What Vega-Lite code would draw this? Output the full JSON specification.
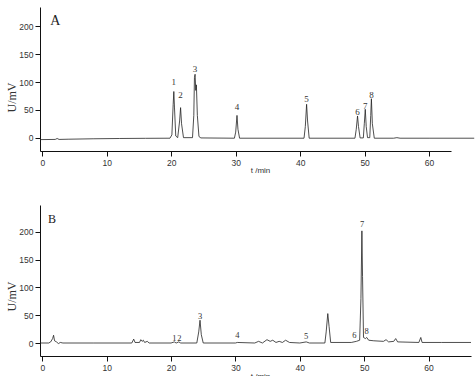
{
  "$schema": "https://vega.github.io/schema/vega-lite/v6.json",
  "padding": {"left": 5, "top": 7, "right": 0, "bottom": 0},
  "spacing": 31,
  "config": {
    "view": {"stroke": null},
    "axis": {
      "grid": false,
      "domainColor": "#111",
      "domainWidth": 1,
      "tickColor": "#111",
      "tickSize": 5,
      "labelFont": "Liberation Sans",
      "labelFontSize": 8.5,
      "labelColor": "#333",
      "labelPadding": 2,
      "labelOverlap": false
    }
  },
  "datasets": {
    "a": [
      {"t": -0.36, "v": -3.5}, {"t": 2.0, "v": -3.2}, {"t": 2.3, "v": -1.5}, {"t": 2.6, "v": -3.2},
      {"t": 4, "v": -2.8}, {"t": 8, "v": -2.0}, {"t": 12, "v": -1.5}, {"t": 16, "v": -1.2},
      {"t": 19.8, "v": -1}, {"t": 20.1, "v": 5}, {"t": 20.3, "v": 60}, {"t": 20.4, "v": 83}, {"t": 20.5, "v": 55}, {"t": 20.7, "v": 3},
      {"t": 21.0, "v": 0}, {"t": 21.3, "v": 30}, {"t": 21.45, "v": 54}, {"t": 21.6, "v": 25}, {"t": 21.9, "v": 0},
      {"t": 23.3, "v": 0}, {"t": 23.5, "v": 40}, {"t": 23.6, "v": 108}, {"t": 23.7, "v": 114}, {"t": 23.8, "v": 85}, {"t": 23.9, "v": 95}, {"t": 24.05, "v": 40}, {"t": 24.3, "v": 2},
      {"t": 24.6, "v": -0.5}, {"t": 29.8, "v": -1}, {"t": 30.0, "v": 10}, {"t": 30.2, "v": 40}, {"t": 30.35, "v": 15}, {"t": 30.6, "v": -1},
      {"t": 40.6, "v": -1}, {"t": 40.8, "v": 20}, {"t": 41.0, "v": 60}, {"t": 41.15, "v": 30}, {"t": 41.4, "v": -1},
      {"t": 48.5, "v": -1}, {"t": 48.7, "v": 15}, {"t": 48.9, "v": 39}, {"t": 49.05, "v": 20}, {"t": 49.3, "v": -0.5},
      {"t": 49.8, "v": -0.5}, {"t": 49.95, "v": 25}, {"t": 50.1, "v": 51}, {"t": 50.25, "v": 20}, {"t": 50.45, "v": 0},
      {"t": 50.8, "v": 0}, {"t": 50.95, "v": 40}, {"t": 51.05, "v": 70}, {"t": 51.2, "v": 25}, {"t": 51.5, "v": -1},
      {"t": 54.5, "v": -1}, {"t": 55, "v": 0}, {"t": 55.5, "v": -1}, {"t": 60, "v": -1}, {"t": 67, "v": -1}
    ],
    "b": [
      {"t": -0.36, "v": 0}, {"t": 1, "v": 0}, {"t": 1.3, "v": 2}, {"t": 1.6, "v": 8}, {"t": 1.75, "v": 14}, {"t": 1.9, "v": 4},
      {"t": 2.2, "v": 2}, {"t": 2.5, "v": -1}, {"t": 2.8, "v": 1}, {"t": 3.2, "v": 0}, {"t": 8, "v": 0},
      {"t": 13.9, "v": 0}, {"t": 14.2, "v": 7}, {"t": 14.4, "v": 1}, {"t": 15.1, "v": 1}, {"t": 15.3, "v": 6}, {"t": 15.5, "v": 3},
      {"t": 15.7, "v": 5}, {"t": 15.9, "v": 1}, {"t": 16.3, "v": 3}, {"t": 16.6, "v": 0}, {"t": 20, "v": 0},
      {"t": 20.5, "v": 2}, {"t": 20.8, "v": 0}, {"t": 21.2, "v": 2}, {"t": 21.5, "v": 0},
      {"t": 24.0, "v": 0}, {"t": 24.3, "v": 20}, {"t": 24.5, "v": 41}, {"t": 24.7, "v": 15}, {"t": 25.0, "v": 0},
      {"t": 30, "v": 0}, {"t": 30.3, "v": 1}, {"t": 33, "v": 0}, {"t": 33.6, "v": 3}, {"t": 34.2, "v": 0},
      {"t": 34.9, "v": 6}, {"t": 35.4, "v": 3}, {"t": 35.8, "v": 5}, {"t": 36.3, "v": 1}, {"t": 36.8, "v": 3},
      {"t": 37.3, "v": 1}, {"t": 37.8, "v": 5}, {"t": 38.4, "v": 1}, {"t": 40, "v": 0}, {"t": 41, "v": 2}, {"t": 41.5, "v": 0},
      {"t": 43.9, "v": 0}, {"t": 44.1, "v": 20}, {"t": 44.35, "v": 53}, {"t": 44.55, "v": 30}, {"t": 44.8, "v": 1},
      {"t": 48, "v": 1}, {"t": 48.8, "v": 3}, {"t": 49.3, "v": 5}, {"t": 49.5, "v": 80}, {"t": 49.65, "v": 202},
      {"t": 49.75, "v": 120}, {"t": 49.9, "v": 10}, {"t": 50.2, "v": 8}, {"t": 50.4, "v": 10}, {"t": 50.7, "v": 5},
      {"t": 51.5, "v": 4}, {"t": 53, "v": 3}, {"t": 53.4, "v": 6}, {"t": 53.8, "v": 2}, {"t": 54.6, "v": 3},
      {"t": 54.9, "v": 8}, {"t": 55.2, "v": 2}, {"t": 58.5, "v": 1}, {"t": 58.8, "v": 10}, {"t": 59.0, "v": 1},
      {"t": 62, "v": 1}, {"t": 66.6, "v": 1}
    ],
    "la": [
      {"t": 20.4, "v": 101, "s": "1"}, {"t": 21.45, "v": 77, "s": "2"}, {"t": 23.7, "v": 123, "s": "3"},
      {"t": 30.2, "v": 55, "s": "4"}, {"t": 41.0, "v": 69, "s": "5"}, {"t": 48.9, "v": 46, "s": "6"},
      {"t": 50.1, "v": 57, "s": "7"}, {"t": 51.05, "v": 77, "s": "8"}
    ],
    "lb": [
      {"t": 20.5, "v": 8.5, "s": "1"}, {"t": 21.3, "v": 8.5, "s": "2"}, {"t": 24.5, "v": 48.6, "s": "3"},
      {"t": 30.3, "v": 14, "s": "4"}, {"t": 41.0, "v": 12.6, "s": "5"}, {"t": 48.5, "v": 14.4, "s": "6"},
      {"t": 49.7, "v": 214, "s": "7"}, {"t": 50.4, "v": 21.6, "s": "8"}
    ]
  },
  "vconcat": [
    {
      "width": 411,
      "height": 144,
      "layer": [
        {
          "data": {"name": "a"},
          "mark": {"type": "line", "color": "#222", "strokeWidth": 0.8, "clip": false},
          "encoding": {
            "x": {"field": "t", "type": "quantitative",
              "scale": {"domain": [-0.36, 63.4], "nice": false, "zero": false},
              "axis": {"values": [0, 10, 20, 30, 40, 50, 60], "title": "t /min", "titleFont": "Liberation Sans",
                "titleFontSize": 8, "titleFontWeight": "normal", "titleColor": "#333",
                "titleX": 220, "titleY": 15, "titleBaseline": "top", "titleAlign": "center"}},
            "y": {"field": "v", "type": "quantitative",
              "scale": {"domain": [-24, 235], "nice": false, "zero": false},
              "axis": {"values": [0, 50, 100, 150, 200], "labelOverlap": false, "tickCount": 5, "title": "U/mV", "titleFont": "Liberation Serif",
                "titleFontSize": 12, "titleFontWeight": "normal", "titleColor": "#333", "titleY": 90, "titlePadding": 0}}
          }
        },
        {
          "data": {"name": "la"},
          "mark": {"type": "text", "font": "Liberation Serif", "fontSize": 9, "color": "#333", "baseline": "middle", "align": "center"},
          "encoding": {
            "x": {"field": "t", "type": "quantitative"},
            "y": {"field": "v", "type": "quantitative"},
            "text": {"field": "s"}
          }
        },
        {
          "data": {"values": [{"t": 2.0, "v": 210, "s": "A"}]},
          "mark": {"type": "text", "font": "Liberation Serif", "fontSize": 14, "color": "#222", "baseline": "middle", "align": "center"},
          "encoding": {
            "x": {"field": "t", "type": "quantitative"},
            "y": {"field": "v", "type": "quantitative"},
            "text": {"field": "s"}
          }
        }
      ]
    },
    {
      "width": 431,
      "height": 151,
      "layer": [
        {
          "data": {"name": "b"},
          "mark": {"type": "line", "color": "#222", "strokeWidth": 0.8},
          "encoding": {
            "x": {"field": "t", "type": "quantitative",
              "scale": {"domain": [-0.36, 66.6], "nice": false, "zero": false},
              "axis": {"values": [0, 10, 20, 30, 40, 50, 60], "title": "t /min", "titleFont": "Liberation Sans",
                "titleFontSize": 8, "titleFontWeight": "normal", "titleColor": "#333",
                "titleX": 220, "titleY": 16, "titleBaseline": "top", "titleAlign": "center"}},
            "y": {"field": "v", "type": "quantitative",
              "scale": {"domain": [-23.4, 248.6], "nice": false, "zero": false},
              "axis": {"values": [0, 50, 100, 150, 200], "labelOverlap": false, "tickCount": 5, "title": "U/mV", "titleFont": "Liberation Serif",
                "titleFontSize": 12, "titleFontWeight": "normal", "titleColor": "#333", "titleY": 91, "titlePadding": 0}}
          }
        },
        {
          "data": {"name": "lb"},
          "mark": {"type": "text", "font": "Liberation Serif", "fontSize": 8.5, "color": "#333", "baseline": "middle", "align": "center"},
          "encoding": {
            "x": {"field": "t", "type": "quantitative"},
            "y": {"field": "v", "type": "quantitative"},
            "text": {"field": "s"}
          }
        },
        {
          "data": {"values": [{"t": 1.5, "v": 223, "s": "B"}]},
          "mark": {"type": "text", "font": "Liberation Serif", "fontSize": 12, "color": "#222", "baseline": "middle", "align": "center"},
          "encoding": {
            "x": {"field": "t", "type": "quantitative"},
            "y": {"field": "v", "type": "quantitative"},
            "text": {"field": "s"}
          }
        }
      ]
    }
  ]
}
